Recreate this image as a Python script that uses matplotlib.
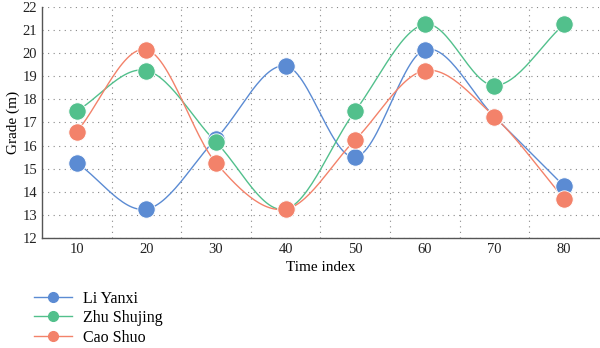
import numpy as np
import matplotlib.pyplot as plt

# data
time_index = [10, 20, 30, 40, 50, 60, 70, 80]
li_yanxi = [15.25, 13.25, 16.3, 19.45, 15.5, 20.15, 17.25, 14.25]
zhu_shujing = [17.5, 19.25, 16.15, 13.25, 17.5, 21.25, 18.6, 21.25]
cao_shuo = [16.6, 20.15, 15.25, 13.25, 16.25, 19.25, 17.25, 13.7]

series_names = ['Li Yanxi', 'Zhu Shujing', 'Cao Shuo']
colors = ['#5b8bd3', '#52c08c', '#f3826a']


def smooth_curve(x, y, n=30):
    # Catmull-Rom spline through the points (like spreadsheet "smoothed line")
    x = np.asarray(x, float)
    y = np.asarray(y, float)
    px = np.concatenate([[2 * x[0] - x[1]], x, [2 * x[-1] - x[-2]]])
    py = np.concatenate([[2 * y[0] - y[1]], y, [2 * y[-1] - y[-2]]])
    xs, ys = [], []
    t = np.linspace(0, 1, n)
    for i in range(1, len(px) - 2):
        for p, out in ((px, xs), (py, ys)):
            p0, p1, p2, p3 = p[i - 1], p[i], p[i + 1], p[i + 2]
            m1 = (p2 - p0) / 2
            m2 = (p3 - p1) / 2
            h00 = 2 * t**3 - 3 * t**2 + 1
            h10 = t**3 - 2 * t**2 + t
            h01 = -2 * t**3 + 3 * t**2
            h11 = t**3 - t**2
            out.extend(h00 * p1 + h10 * m1 + h01 * p2 + h11 * m2)
    return np.array(xs), np.array(ys)


plt.rcParams['font.family'] = ['Liberation Serif', 'DejaVu Serif']

fig = plt.figure(figsize=(6, 3.48), dpi=100)
ax = fig.add_axes([0.07, 0.316, 0.928, 0.664])

for name, vals, c in zip(series_names, [li_yanxi, zhu_shujing, cao_shuo], colors):
    sx, sy = smooth_curve(time_index, vals)
    ax.plot(sx, sy, color=c, lw=1.0, zorder=2)
    ax.plot(time_index, vals, 'o', color=c, ms=12.5, mec='white', mew=0.6, zorder=3)
    ax.plot([], [], '-o', color=c, lw=1.0, ms=7, label=name)

ax.set_xlim(5, 85)
ax.set_ylim(12, 22)
ax.set_xticks(time_index)
ax.set_yticks(range(12, 23))
ax.set_xticks(np.arange(15, 85, 10), minor=True)
ax.tick_params(which='both', length=0, labelsize=10.5, colors='#222222')
ax.grid(axis='y', which='major', color='#888888', ls=(0, (1, 4)), lw=0.8)
ax.grid(axis='x', which='minor', color='#888888', ls=(0, (1, 4)), lw=0.8)

for s in ['top', 'right']:
    ax.spines[s].set_visible(False)
for s in ['left', 'bottom']:
    ax.spines[s].set_color('#555555')
    ax.spines[s].set_linewidth(1.0)

ax.set_xlabel('Time index', fontsize=11, labelpad=4)
ax.set_ylabel('Grade (m)', fontsize=11, labelpad=2)

ax.legend(loc='upper left', bbox_to_anchor=(-0.041, -0.165), frameon=False,
          fontsize=11.5, handlelength=2.4, labelspacing=0.22, handletextpad=0.7)

fig.savefig('out.png', dpi=100)
